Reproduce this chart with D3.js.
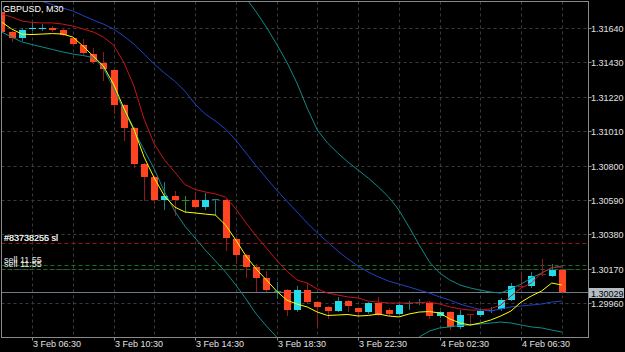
<!DOCTYPE html>
<html>
<head>
<meta charset="utf-8">
<script src="https://cdnjs.cloudflare.com/ajax/libs/d3/7.8.5/d3.min.js"></script>
<style>
html, body { margin: 0; padding: 0; background: #000; }
svg { display: block; font-family: "Liberation Sans", Arial, sans-serif; }
</style>
</head>
<body>
<div class="canvas"></div>
<script>
// GBPUSD M30 bars, first bar 3 Feb 05:00
const firstBar = "2020-02-03 05:00"

const opens = [1.31738,1.31616,1.31579,1.31631,1.31634,1.31640,1.31628,1.31579,1.31536,1.31481,
  1.31426,1.31384,1.31170,1.31027,1.30807,1.30730,1.30587,1.30614,1.30590,1.30593,
  1.30547,1.30593,1.30590,1.30352,1.30254,1.30181,1.30114,1.30034,1.30040,1.29918,
  1.30040,1.29967,1.29934,1.29915,1.29973,1.29931,1.29909,1.29964,1.29921,1.29897,
  1.29958,1.29966,1.29964,1.29882,1.29909,1.29815,1.29892,1.29888,1.29916,1.29924,
  1.29982,1.30062,1.30065,1.30141,1.30129,1.30163]
const highs = [1.31744,1.31622,1.31640,1.31672,1.31667,1.31652,1.31634,1.31585,1.31573,1.31518,
  1.31493,1.31390,1.31176,1.31036,1.30816,1.30736,1.30700,1.30645,1.30614,1.30639,
  1.30633,1.30597,1.30596,1.30358,1.30260,1.30199,1.30156,1.30089,1.30047,1.30062,
  1.30083,1.29973,1.29943,1.29998,1.29979,1.29937,1.29970,1.29998,1.29931,1.29955,
  1.29973,1.29985,1.29973,1.29912,1.29915,1.29918,1.29894,1.29925,1.29937,1.29992,
  1.30083,1.30147,1.30150,1.30230,1.30199,1.30169]
const lows = [1.31609,1.31561,1.31567,1.31628,1.31628,1.31622,1.31597,1.31536,1.31481,1.31426,
  1.31323,1.31121,1.30956,1.30791,1.30590,1.30572,1.30535,1.30498,1.30517,1.30547,
  1.30538,1.30498,1.30285,1.30205,1.30120,1.30034,1.30034,1.29992,1.29888,1.29912,
  1.29961,1.29821,1.29870,1.29912,1.29912,1.29876,1.29903,1.29888,1.29888,1.29894,
  1.29925,1.29955,1.29870,1.29876,1.29802,1.29808,1.29827,1.29882,1.29906,1.29918,
  1.29979,1.30059,1.30059,1.30132,1.30123,1.30022]
const closes = [1.31616,1.31579,1.31628,1.31637,1.31640,1.31628,1.31600,1.31540,1.31489,1.31431,
  1.31390,1.31170,1.31030,1.30810,1.30730,1.30587,1.30614,1.30590,1.30590,1.30550,
  1.30590,1.30595,1.30355,1.30254,1.30181,1.30114,1.30040,1.30036,1.29918,1.30040,
  1.29970,1.29934,1.29915,1.29973,1.29940,1.29909,1.29963,1.29891,1.29897,1.29949,
  1.29961,1.29967,1.29882,1.29909,1.29815,1.29891,1.29891,1.29915,1.29918,1.29979,
  1.30065,1.30061,1.30129,1.30138,1.30163,1.30029]

// indicator lines, one value per bar
const fastMA = [1.31677,1.31634,1.31603,1.31600,1.31603,1.31606,1.31603,1.31585,1.31530,1.31469,
  1.31408,1.31298,1.31152,1.31023,1.30852,1.30724,1.30614,1.30547,1.30517,1.30511,
  1.30504,1.30498,1.30437,1.30346,1.30248,1.30169,1.30102,1.30034,1.29979,1.29955,
  1.29937,1.29906,1.29885,1.29888,1.29891,1.29882,1.29885,1.29894,1.29882,1.29876,
  1.29894,1.29906,1.29909,1.29900,1.29864,1.29839,1.29827,1.29839,1.29857,1.29882,
  1.29912,1.29967,1.30004,1.30034,1.30083,1.30071]
const redLine = [1.31726,1.31707,1.31683,1.31674,1.31671,1.31671,1.31664,1.31652,1.31634,1.31616,
  1.31585,1.31536,1.31432,1.31286,1.31084,1.30932,1.30834,1.30761,1.30685,1.30654,
  1.30639,1.30627,1.30608,1.30535,1.30450,1.30370,1.30297,1.30224,1.30156,1.30102,
  1.30083,1.30047,1.30022,1.30010,1.29998,1.29992,1.29973,1.29967,1.29961,1.29961,
  1.29961,1.29964,1.29967,1.29955,1.29937,1.29925,1.29918,1.29918,1.29925,1.29949,
  1.30004,1.30053,1.30083,1.30144,1.30178,1.30181]
const bandMid = [1.31872,1.31854,1.31838,1.31820,1.31802,1.31783,1.31762,1.31744,1.31716,1.31689,
  1.31664,1.31634,1.31591,1.31542,1.31481,1.31420,1.31365,1.31316,1.31255,1.31176,
  1.31115,1.31072,1.31023,1.30956,1.30877,1.30798,1.30724,1.30651,1.30584,1.30517,
  1.30450,1.30389,1.30334,1.30279,1.30230,1.30187,1.30150,1.30120,1.30095,1.30077,
  1.30059,1.30040,1.30022,1.29998,1.29979,1.29955,1.29937,1.29921,1.29912,1.29925,
  1.29937,1.29943,1.29949,1.29955,1.29967,1.29973]
const bandUp = [1.32128,1.32122,1.32116,1.32104,1.32086,1.32061,1.32037,1.32006,1.31970,1.31933,
  1.31933,1.31982,1.32031,1.32055,1.32067,1.32067,1.32080,1.32092,1.32080,1.32031,
  1.31982,1.31933,1.31890,1.31854,1.31823,1.31738,1.31646,1.31542,1.31432,1.31304,
  1.31152,1.31017,1.30938,1.30877,1.30822,1.30773,1.30724,1.30669,1.30608,1.30529,
  1.30425,1.30315,1.30212,1.30144,1.30102,1.30071,1.30053,1.30040,1.30028,1.30022,
  1.30047,1.30077,1.30114,1.30144,1.30175,1.30187]
const bandLow = [1.31616,1.31585,1.31555,1.31539,1.31524,1.31509,1.31494,1.31481,1.31472,1.31460,
  1.31396,1.31274,1.31139,1.31017,1.30895,1.30779,1.30639,1.30523,1.30431,1.30358,
  1.30285,1.30218,1.30150,1.30071,1.29986,1.29894,1.29821,1.29754,1.29674,1.29613,
  1.29564,1.29528,1.29503,1.29491,1.29485,1.29491,1.29503,1.29528,1.29564,1.29613,
  1.29680,1.29754,1.29790,1.29809,1.29815,1.29824,1.29827,1.29833,1.29839,1.29845,
  1.29839,1.29827,1.29815,1.29809,1.29796,1.29784]

const yTicks = [1.31640,1.31430,1.31220,1.31010,1.30800,1.30590,1.30380,1.30170,1.29960]
const xTickLabels = ["3 Feb 06:30","3 Feb 10:30","3 Feb 14:30","3 Feb 18:30","3 Feb 22:30","4 Feb 02:30","4 Feb 06:30"]

// trade objects
const tradeNames = ["#83738255 sl","#83738256 sl"]
const slPrice = 1.30326
const sellNames = ["sell 11.55","sell 11.55"]
const sellPrices = [1.30193,1.30169]
const bid = 1.30029

const W = 625, H = 352
const plot = {left: 1.5, top: 1.5, right: 588.5, bottom: 337.5}

const svg = d3.select(".canvas").append("svg")
  .attr("width", W)
  .attr("height", H)

svg.append("rect").attr("width", W).attr("height", H).attr("fill", "#000")

const parse = d3.timeParse("%Y-%m-%d %H:%M")
const fmt = d3.timeFormat("%-d %b %H:%M")
const times = opens.map((d, i) => d3.timeMinute.offset(parse(firstBar), 30 * i))

const x = d3.scaleTime()
  .domain([times[0], times[times.length - 1]])
  .range([1.43, 561.9])

const y = d3.scaleLinear()
  .domain([1.29960, 1.31640])
  .range([303.2, 28])

const px = v => Math.round(v) + 0.5

svg.append("clipPath").attr("id", "clip")
  .append("rect")
  .attr("x", plot.left).attr("y", plot.top)
  .attr("width", plot.right - plot.left).attr("height", plot.bottom - plot.top)

const chart = svg.append("g").attr("clip-path", "url(#clip)")

// grid
const gridTimes = times.filter((d, i) => i % 4 === 3)
chart.selectAll(".vgrid").data(gridTimes).enter().append("line")
  .attr("x1", d => px(x(d))).attr("x2", d => px(x(d)))
  .attr("y1", plot.top).attr("y2", plot.bottom)
  .attr("stroke", "#3a3a3a").attr("stroke-dasharray", "3,3")
chart.selectAll(".hgrid").data(yTicks).enter().append("line")
  .attr("x1", plot.left).attr("x2", plot.right)
  .attr("y1", d => px(y(d))).attr("y2", d => px(y(d)))
  .attr("stroke", "#3a3a3a").attr("stroke-dasharray", "3,3")

// trade lines
chart.append("line")
  .attr("x1", plot.left).attr("x2", plot.right)
  .attr("y1", px(y(slPrice))).attr("y2", px(y(slPrice)))
  .attr("stroke", "#9a1414").attr("stroke-dasharray", "4,3")
chart.selectAll(".sell").data(sellPrices).enter().append("line")
  .attr("x1", plot.left).attr("x2", plot.right)
  .attr("y1", d => px(y(d))).attr("y2", d => px(y(d)))
  .attr("stroke", "#1f6e1f").attr("stroke-dasharray", "4,3")
chart.append("line")
  .attr("x1", plot.left).attr("x2", plot.right)
  .attr("y1", px(y(bid))).attr("y2", px(y(bid)))
  .attr("stroke", "#6f7b86")

// candles
const bars = times.map((t, i) => ({t, o: opens[i], h: highs[i], l: lows[i], c: closes[i]}))
const bullBody = "#22dcec", bearBody = "#ff4422"
const bullWick = "#1c7c7e", bearWick = "#8e1a1a"

const candle = chart.selectAll(".candle").data(bars).enter().append("g")

candle.append("line")
  .attr("x1", d => px(x(d.t))).attr("x2", d => px(x(d.t)))
  .attr("y1", d => Math.round(y(d.h))).attr("y2", d => Math.round(y(d.l)) + 1)
  .attr("stroke", d => d.c > d.o ? bullWick : d.c < d.o ? bearWick : "#2d8c2d")

candle.each(function (d) {
  const g = d3.select(this)
  const cx = Math.round(x(d.t))
  const top = Math.round(y(Math.max(d.o, d.c)))
  const bot = Math.round(y(Math.min(d.o, d.c)))
  const span = Math.abs(y(d.o) - y(d.c))
  if (span < 0.6) {
    g.append("rect").attr("x", cx - 3).attr("y", top).attr("width", 7).attr("height", 1)
      .attr("fill", d.c > d.o ? bullWick : d.c < d.o ? bearWick : "#2d8c2d")
  } else {
    g.append("rect").attr("x", cx - 3).attr("y", top).attr("width", 7).attr("height", Math.max(1, bot - top))
      .attr("fill", d.c > d.o ? bullBody : bearBody)
  }
})

// indicators
const lineGen = d3.line().x((d, i) => x(times[i])).y(d => y(d))
chart.append("path").attr("d", lineGen(bandUp)).attr("fill", "none").attr("stroke", "#118a8a")
chart.append("path").attr("d", lineGen(bandLow)).attr("fill", "none").attr("stroke", "#118a8a")
chart.append("path").attr("d", lineGen(bandMid)).attr("fill", "none").attr("stroke", "#2342c4")
chart.append("path").attr("d", lineGen(redLine)).attr("fill", "none").attr("stroke", "#c8141c")
chart.append("path").attr("d", lineGen(fastMA)).attr("fill", "none").attr("stroke", "#ffff00")

// object labels
svg.selectAll(".tlabel").data(tradeNames).enter().append("text")
  .attr("x", 4).attr("y", Math.round(y(slPrice)) - 2.5)
  .attr("fill", "#e8e8e8").attr("font-size", 9).text(d => d)
svg.selectAll(".slabel").data(sellNames).enter().append("text")
  .attr("x", 4).attr("y", (d, i) => Math.round(y(sellPrices[i])) - 2.5)
  .attr("fill", "#e8e8e8").attr("font-size", 9).text(d => d)

// frame
svg.append("rect")
  .attr("x", plot.left).attr("y", plot.top)
  .attr("width", plot.right - plot.left).attr("height", plot.bottom - plot.top)
  .attr("fill", "none").attr("stroke", "#8a8a8a")

// price axis
svg.selectAll(".ytick").data(yTicks).enter().append("line")
  .attr("x1", plot.right).attr("x2", plot.right + 3)
  .attr("y1", d => px(y(d))).attr("y2", d => px(y(d)))
  .attr("stroke", "#8a8a8a")
svg.selectAll(".ylab").data(yTicks).enter().append("text")
  .attr("x", 591).attr("y", d => Math.round(y(d)) + 4)
  .attr("fill", "#e0e0e0").attr("font-size", 9)
  .text(d => d3.format(".5f")(d))

// bid label
svg.append("rect")
  .attr("x", 589).attr("y", Math.round(y(bid)) - 4)
  .attr("width", 35).attr("height", 10)
  .attr("fill", "#b4bcc4")
svg.append("text")
  .attr("x", 591).attr("y", Math.round(y(bid)) + 4.5)
  .attr("fill", "#000").attr("font-size", 9)
  .text(d3.format(".5f")(bid))

// time axis
const labelTimes = times.filter(t => xTickLabels.includes(fmt(t)))
svg.selectAll(".xtick").data(labelTimes).enter().append("line")
  .attr("x1", d => px(x(d))).attr("x2", d => px(x(d)))
  .attr("y1", plot.bottom).attr("y2", plot.bottom + 3)
  .attr("stroke", "#8a8a8a")
svg.selectAll(".xlab").data(labelTimes).enter().append("text")
  .attr("x", d => Math.round(x(d)) + 1).attr("y", 347)
  .attr("fill", "#e0e0e0").attr("font-size", 9)
  .text(d => fmt(d))

// title
svg.append("text")
  .attr("x", 3).attr("y", 12)
  .attr("fill", "#ffffff").attr("font-size", 9)
  .text("GBPUSD, M30")
</script>
</body>
</html>
